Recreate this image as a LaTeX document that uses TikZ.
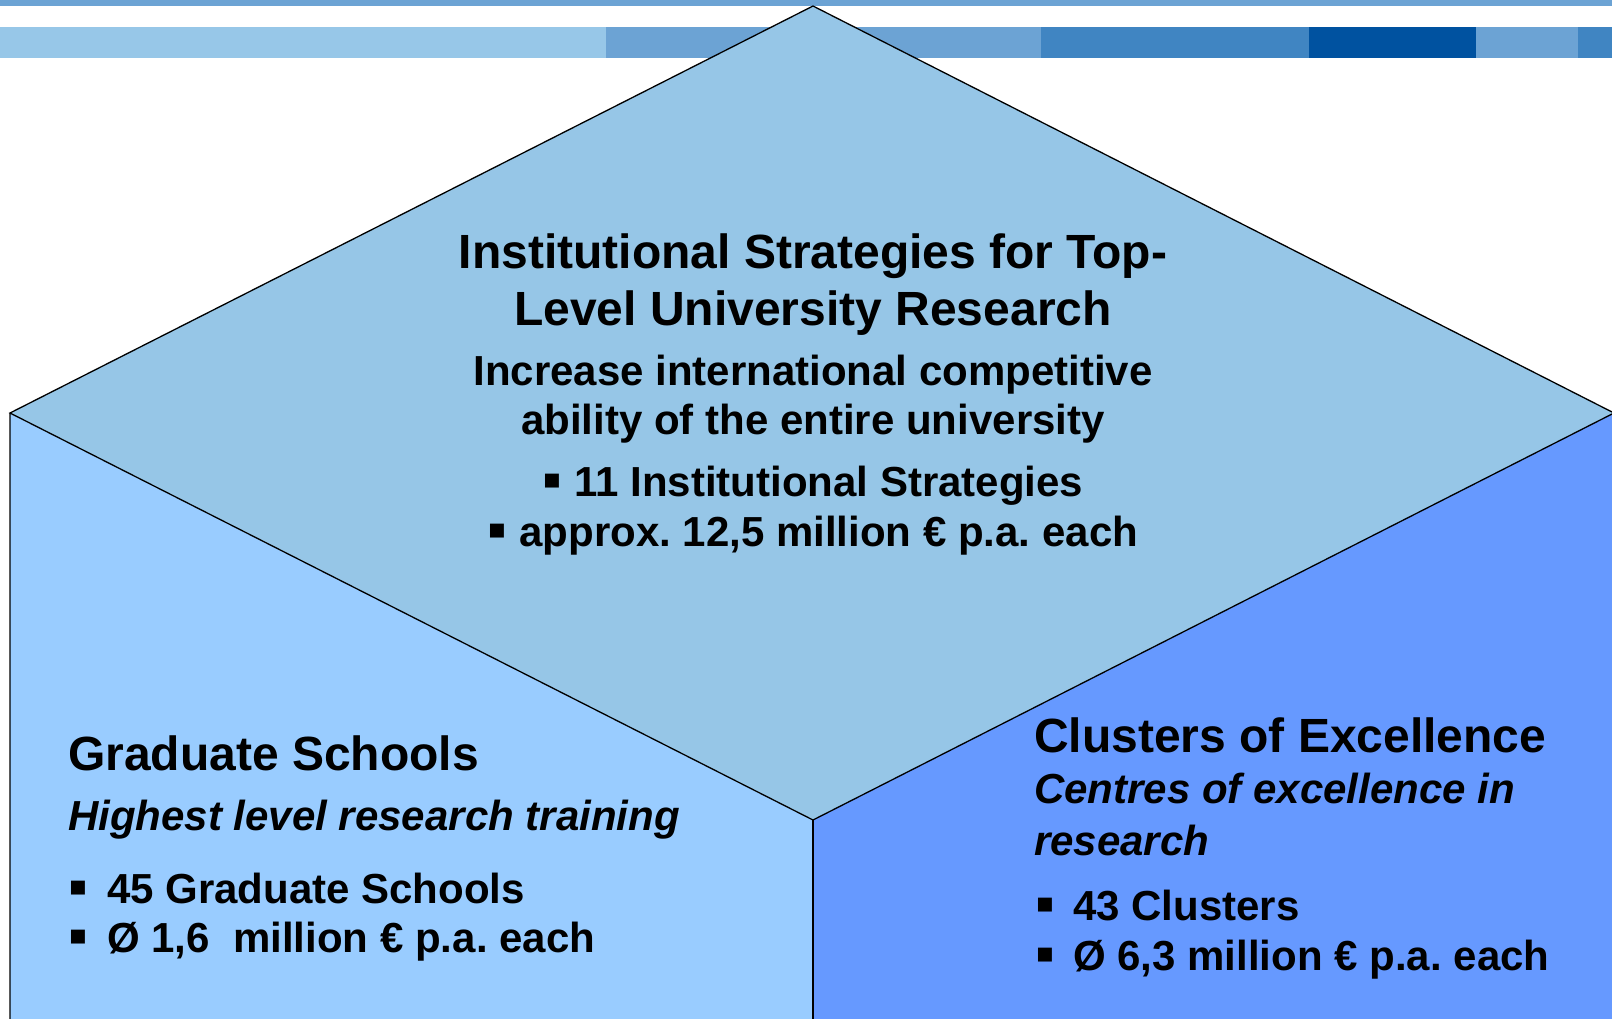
\documentclass[tikz,border=0pt]{standalone}
\usepackage{fontspec}
\setmainfont{Liberation Sans}
\usetikzlibrary{positioning}
\frenchspacing

\definecolor{topface}{HTML}{96C6E7}
\definecolor{leftface}{HTML}{99CCFF}
\definecolor{rightface}{HTML}{6699FF}
\definecolor{barlight}{HTML}{97C7E8}
\definecolor{barmid}{HTML}{6CA3D4}
\definecolor{bardeep}{HTML}{4085C2}
\definecolor{bardark}{HTML}{0052A0}

\newcommand{\bigsz}{\fontsize{48}{58}\selectfont\bfseries}
\newcommand{\smsz}{\fontsize{42}{51}\selectfont\bfseries}
\newcommand{\hd}{\node[anchor=base, inner sep=0pt, font=\bigsz]}
\newcommand{\tx}{\node[anchor=base, inner sep=0pt, font=\smsz]}
\newcommand{\blt}{\raisebox{-2pt}{\smash{\fontsize{56}{56}\selectfont ▪}}}
\newcommand{\sq}[1]{\makebox[#1][l]{\blt}}

\begin{document}
\begin{tikzpicture}[x=1pt, y=-1pt]
            \useasboundingbox (0,0) rectangle (1612,1018);

            % top stripes
            \fill[barmid] (0,0) rectangle (1612,6);
            \foreach \xa/\xb/\col in {0/606/barlight, 606/1041/barmid, 1041/1309/bardeep,
                                      1309/1476/bardark, 1476/1578/barmid, 1578/1612/bardeep}
                \fill[\col] (\xa,27) rectangle (\xb,58);

            \coordinate (top) at (813,6);
            \coordinate (lft) at (10,413);
            \coordinate (rgt) at (1614,413);
            \coordinate (bot) at (813,820);
            \coordinate (lftfoot) at (10,1020);
            \coordinate (botfoot) at (813,1020);
            \coordinate (rgtfoot) at (1614,1020);

            \fill[topface] (top) -- (lft) -- (bot) -- (rgt) -- cycle;
            \fill[leftface] (lft) -- (bot) -- (botfoot) -- (lftfoot) -- cycle;
            \fill[rightface] (bot) -- (rgt) -- (rgtfoot) -- (botfoot) -- cycle;

            \draw[line width=1.3pt]
                (top) -- (lft) -- (bot) -- (rgt) -- cycle
                (lft) -- (lftfoot)
                ;
            \draw[line width=2pt] (bot) -- (botfoot);

            % top face
            \hd (t1) at (813,268) {Institutional Strategies for Top-};
            \hd (t2) at (813,325) {Level University Research};
            \tx (t3) at (813,385) {Increase international competitive};
            \tx (t4) at (813,434) {ability of the entire university};
            \tx (t5) at (813,496) {\blt\ 11 Institutional Strategies};
            \tx (t6) at (813,546) {\blt\ approx. 12,5 million € p.a. each};

            % left face
            \hd[anchor=base west] (g1) at (68,770) {Graduate Schools};
            \tx[anchor=base west] (g2) at (68,830) {\itshape Highest level research training};
            \tx[anchor=base west] (g3) at (68,903) {\sq{39pt}45 Graduate Schools};
            \tx[anchor=base west] (g4) at (68,952) {\sq{39pt}Ø 1,6~ million € p.a. each};

            % right face
            \hd[anchor=base west] (c1) at (1034,752) {Clusters of Excellence};
            \tx[anchor=base west] (c2) at (1034,803) {\itshape Centres of excellence in};
            \tx[anchor=base west] (c3) at (1034,855) {\itshape research};
            \tx[anchor=base west] (c4) at (1035,920) {\sq{38pt}43 Clusters};
            \tx[anchor=base west] (c5) at (1035,970) {\sq{38pt}Ø 6,3 million € p.a. each};
        \end{tikzpicture}
\end{document}
